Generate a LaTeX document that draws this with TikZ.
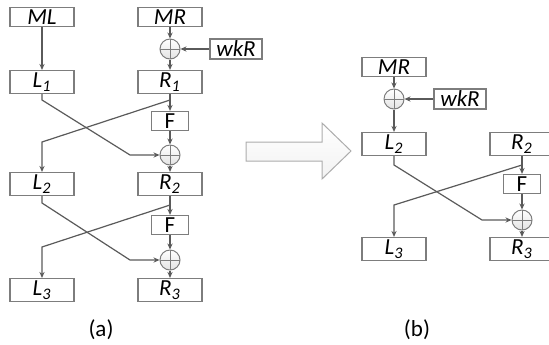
\documentclass[tikz,border=0pt]{standalone}
\usepackage{fontspec}
\setmainfont{Carlito}
\usetikzlibrary{arrows.meta}

\definecolor{boxgray}{RGB}{125,125,125}
\definecolor{wiregray}{RGB}{90,90,90}

\tikzset{
    blk/.style={draw=boxgray, line width=0.6pt, minimum width=32pt, minimum height=11.5pt, inner sep=0pt, font=\fontsize{11.5}{13}\selectfont\itshape},
    msg/.style={blk, minimum height=9.5pt},
    key/.style={blk, minimum width=26pt, minimum height=10pt},
    fbox/.style={blk, minimum width=18.5pt, minimum height=9.5pt, font=\fontsize{11.5}{13}\selectfont},
    xorop/.style={circle, draw=boxgray, line width=0.5pt, minimum size=10pt, inner sep=0pt,
        top color=white, bottom color=gray!22,
        path picture={\draw[boxgray, line width=0.5pt]
            (path picture bounding box.north) -- (path picture bounding box.south)
            (path picture bounding box.west) -- (path picture bounding box.east);}},
    wire/.style={draw=wiregray, line width=0.6pt},
    flow/.style={wire, -{Stealth[length=3pt, width=2.6pt]}},
    caption/.style={font=\fontsize{11.5}{13}\selectfont}
}

\begin{document}
\begin{tikzpicture}[x=0.5pt, y=-0.5pt]
    \useasboundingbox (0,0) rectangle (549,344);

    % (a) two rounds
    \node[msg] (ML) at (42,17) {ML};
    \node[msg] (MR) at (170,17) {MR};
    \node[xorop] (xa) at (170,49) {};
    \node[key] (wkRa) at (236,49) {wkR};
    \node[blk] (L1) at (42,82) {L\textsubscript{1}};
    \node[blk] (R1) at (170,82) {R\textsubscript{1}};
    \node[fbox] (Fa) at (170,121) {F};
    \node[xorop] (xb) at (170,155) {};
    \node[blk] (L2) at (42,184) {L\textsubscript{2}};
    \node[blk] (R2) at (170,184) {R\textsubscript{2}};
    \node[fbox] (Fb) at (170,225) {F};
    \node[xorop] (xc) at (170,260) {};
    \node[blk] (L3) at (42,290) {L\textsubscript{3}};
    \node[blk] (R3) at (170,290) {R\textsubscript{3}};
    \node[caption] (capa) at (101,330) {(a)};

    \coordinate (sa) at (170,100);
    \coordinate (ta) at (42,142);
    \coordinate (ua) at (42,100);
    \coordinate (va) at (130,155);
    \coordinate (sb) at (170,205);
    \coordinate (tb) at (42,247);
    \coordinate (ub) at (42,203);
    \coordinate (vb) at (130,260);

    % Whitening
    \draw[flow] (ML) -- (L1);
    \draw[flow] (MR) -- (xa);
    \draw[flow] (wkRa) -- (xa);
    \draw[flow] (xa) -- (R1);
    % Round 1
    \draw[wire] (R1.south) -- (sa);
    \draw[flow] (sa) -- (Fa);
    \draw[flow] (sa) -- (ta) -- (L2);
    \draw[flow] (L1.south) -- (ua) -- (va) -- (xb);
    \draw[flow] (Fa) -- (xb);
    \draw[flow] (xb) -- (R2);
    % Round 2
    \draw[wire] (R2.south) -- (sb);
    \draw[flow] (sb) -- (Fb);
    \draw[flow] (sb) -- (tb) -- (L3);
    \draw[flow] (L2.south) -- (ub) -- (vb) -- (xc);
    \draw[flow] (Fb) -- (xc);
    \draw[flow] (xc) -- (R3);

    % Big arrow
    \draw[draw=gray!65, line width=0.5pt, top color=white, bottom color=gray!10]
        (246,142) -- (322,142) -- (322,123) -- (351,151) -- (322,179)
        -- (322,161) -- (246,161) -- cycle;

    % (b) one round
    \node[msg] (MRb) at (394,67) {MR};
    \node[xorop] (xd) at (394,99) {};
    \node[key] (wkRb) at (460,99) {wkR};
    \node[blk] (L2b) at (394,144) {L\textsubscript{2}};
    \node[blk] (R2b) at (522,144) {R\textsubscript{2}};
    \node[fbox] (Fc) at (522,184) {F};
    \node[xorop] (xe) at (522,220) {};
    \node[blk] (L3b) at (394,249) {L\textsubscript{3}};
    \node[blk] (R3b) at (522,249) {R\textsubscript{3}};
    \node[caption] (capb) at (417,330) {(b)};

    \coordinate (sc) at (522,165);
    \coordinate (tc) at (394,205);
    \coordinate (uc) at (394,165);
    \coordinate (vc) at (482,220);

    \draw[flow] (MRb) -- (xd);
    \draw[flow] (wkRb) -- (xd);
    \draw[flow] (xd) -- (L2b);
    \draw[wire] (R2b.south) -- (sc);
    \draw[flow] (sc) -- (Fc);
    \draw[flow] (sc) -- (tc) -- (L3b);
    \draw[flow] (L2b.south) -- (uc) -- (vc) -- (xe);
    \draw[flow] (Fc) -- (xe);
    \draw[flow] (xe) -- (R3b);
\end{tikzpicture}
\end{document}
